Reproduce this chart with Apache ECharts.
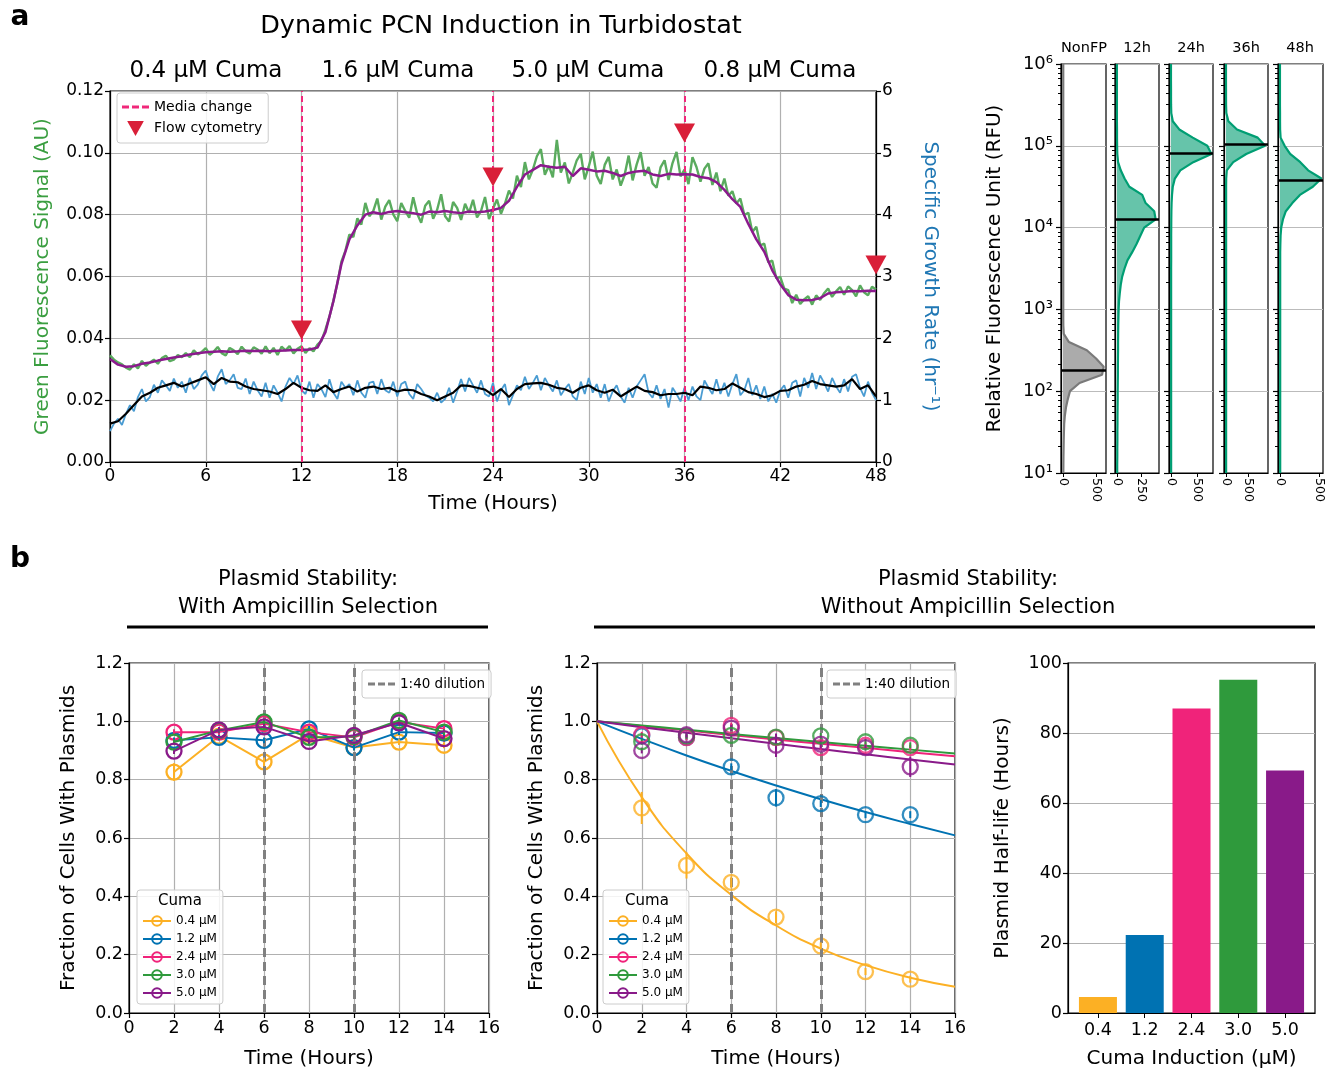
<!DOCTYPE html>
<html>
<head>
<meta charset="utf-8">
<script src="https://cdn.jsdelivr.net/npm/echarts@6/dist/echarts.min.js"></script>
<style>
  html, body { margin: 0; background: #fff; }
  #main { width: 1332px; height: 1071px; }
</style>
</head>
<body>
<div id="main"></div>
<script>
// ---- panel a : turbidostat run, raw traces every 0.25 h, smoothed every 0.5 h
const gfpRaw = [
  0.0345, 0.0331, 0.0322, 0.0316,  0.0305, 0.0299, 0.0316, 0.0303,
  0.0327, 0.0311, 0.0322, 0.0331,  0.0318, 0.0336, 0.0344, 0.0326,
  0.0331, 0.0346, 0.0339, 0.0352,  0.0339, 0.0361, 0.0348, 0.0356,
  0.0368, 0.0347, 0.0357, 0.0372,  0.0352, 0.0345, 0.0369, 0.0361,
  0.0349, 0.0373, 0.0358, 0.0351,  0.0371, 0.0364, 0.0350, 0.0374,
  0.0352, 0.0369, 0.0346, 0.0373,  0.0361, 0.0375, 0.0351, 0.0366,
  0.0374, 0.0353, 0.0368, 0.0358,  0.0380, 0.0392, 0.0428, 0.0470,
  0.0522, 0.0578, 0.0648, 0.0683,  0.0736, 0.0728, 0.0788, 0.0768,
  0.0838, 0.0795, 0.0812, 0.0852,  0.0784, 0.0826, 0.0847, 0.0801,
  0.0779, 0.0838, 0.0812, 0.0790,  0.0856, 0.0803, 0.0774, 0.0829,
  0.0845, 0.0787, 0.0816, 0.0866,  0.0795, 0.0778, 0.0841, 0.0822,
  0.0783, 0.0835, 0.0806, 0.0848,  0.0791, 0.0812, 0.0857, 0.0786,
  0.0819, 0.0849, 0.0803, 0.0836,  0.0878, 0.0852, 0.0926, 0.0889,
  0.0970, 0.0914, 0.0946, 0.0989,  0.1012, 0.0929, 0.0958, 0.0921,
  0.1042, 0.0936, 0.0969, 0.0901,  0.0936, 0.0976, 0.0997, 0.0914,
  0.0956, 0.1004, 0.0926, 0.0899,  0.0961, 0.0987, 0.0914, 0.0946,
  0.0894, 0.0929, 0.0991, 0.0911,  0.0962, 0.1002, 0.0926, 0.0954,
  0.0901, 0.0887, 0.0953, 0.0976,  0.0912, 0.0967, 0.1003, 0.0924,
  0.0946, 0.0899, 0.0986, 0.0954,  0.0907, 0.0949, 0.0966, 0.0896,
  0.0936, 0.0876, 0.0917, 0.0861,  0.0876, 0.0836, 0.0852, 0.0799,
  0.0806, 0.0744, 0.0761, 0.0701,  0.0706, 0.0646, 0.0651, 0.0594,
  0.0599, 0.0561, 0.0556, 0.0514,  0.0541, 0.0511, 0.0526, 0.0536,
  0.0509, 0.0539, 0.0524, 0.0546,  0.0561, 0.0534, 0.0552, 0.0566,
  0.0541, 0.0568, 0.0556, 0.0536,  0.0571, 0.0549, 0.0539, 0.0567,
  0.0558
]
const gfpSmooth = [
  0.0333, 0.0315, 0.0308, 0.0310, 0.0318, 0.0322, 0.0328, 0.0333, 0.0338, 0.0342,
  0.0348, 0.0352, 0.0355, 0.0357, 0.0358, 0.0357, 0.0358, 0.0360, 0.0359, 0.0360,
  0.0358, 0.0360, 0.0361, 0.0362, 0.0362, 0.0364, 0.0370, 0.0420, 0.0520, 0.0640,
  0.0720, 0.0765, 0.0800, 0.0808, 0.0802, 0.0809, 0.0812, 0.0808, 0.0805, 0.0800,
  0.0810, 0.0808, 0.0812, 0.0808, 0.0805, 0.0810, 0.0808, 0.0810, 0.0815, 0.0822,
  0.0845, 0.0890, 0.0930, 0.0945, 0.0960, 0.0955, 0.0952, 0.0955, 0.0925, 0.0950,
  0.0945, 0.0940, 0.0942, 0.0935, 0.0925, 0.0935, 0.0940, 0.0942, 0.0930, 0.0925,
  0.0932, 0.0930, 0.0931, 0.0930, 0.0922, 0.0918, 0.0905, 0.0880, 0.0850, 0.0825,
  0.0770, 0.0720, 0.0680, 0.0620, 0.0575, 0.0540, 0.0525, 0.0523, 0.0524, 0.0530,
  0.0545, 0.0549, 0.0551, 0.0553, 0.0552, 0.0554, 0.0553
]
const growthRaw = [
  0.50, 0.62, 0.70, 0.60,  0.78, 0.92, 0.82, 1.05,  1.18, 0.98, 1.05, 1.25,
  1.12, 1.32, 1.24, 1.15,  1.35, 1.20, 1.30, 1.12,  1.36, 1.18, 1.25, 1.40,
  1.48, 1.28, 1.15, 1.38,  1.50, 1.26, 1.32, 1.42,  1.20, 1.18, 1.35, 1.10,
  1.30, 1.16, 1.06, 1.28,  1.04, 1.24, 1.12, 0.98,  1.22, 1.36, 1.26, 1.40,
  1.16, 1.10, 1.30, 1.04,  1.26, 1.18, 1.05, 1.34,  1.12, 1.02, 1.30, 1.20,
  1.26, 1.08, 1.32, 1.12,  1.04, 1.28, 1.30, 1.10,  1.34, 1.16, 1.12, 1.30,
  1.06, 1.26, 1.30, 1.10,  1.02, 1.26, 1.18, 1.08,  1.04, 0.98, 1.12, 0.96,
  1.02, 1.20, 0.96, 1.14,  1.34, 1.14, 1.36, 1.24,  1.12, 1.32, 1.10, 1.06,
  1.28, 0.98, 1.16, 1.26,  0.92, 1.08, 1.24, 1.16,  1.38, 1.18, 1.28, 1.40,
  1.16, 1.36, 1.24, 1.14,  1.32, 1.08, 1.18, 1.26,  1.06, 1.00, 1.30, 1.10,
  1.36, 1.12, 1.26, 1.04,  1.26, 0.98, 1.14, 1.24,  1.06, 0.96, 1.20, 1.04,
  1.22, 1.32, 1.42, 1.12,  1.04, 1.24, 1.02, 1.18,  0.88, 1.20, 1.10, 0.98,
  1.20, 1.00, 1.22, 1.06,  1.00, 1.32, 1.20, 1.10,  1.34, 1.10, 1.28, 1.06,
  1.26, 1.42, 1.08, 1.16,  1.36, 1.08, 1.24, 1.02,  1.22, 0.98, 1.10, 0.96,
  1.16, 1.24, 1.04, 1.28,  1.32, 1.06, 1.36, 1.20,  1.44, 1.18, 1.40, 1.28,
  1.14, 1.36, 1.22, 1.12,  1.34, 1.14, 1.38, 1.42,  1.20, 1.06, 1.30, 1.12,
  1.00
]
const growthSmooth = [
  0.62, 0.66, 0.78, 0.92, 1.06, 1.12, 1.20, 1.24, 1.28, 1.22,
  1.27, 1.32, 1.37, 1.26, 1.36, 1.30, 1.29, 1.22, 1.18, 1.16,
  1.14, 1.10, 1.18, 1.28, 1.20, 1.16, 1.15, 1.24, 1.13, 1.18,
  1.22, 1.14, 1.20, 1.22, 1.18, 1.20, 1.14, 1.17, 1.16, 1.10,
  1.06, 1.00, 1.06, 1.12, 1.24, 1.23, 1.20, 1.17, 1.08, 1.18,
  1.05, 1.18, 1.26, 1.27, 1.28, 1.25, 1.20, 1.18, 1.12, 1.20,
  1.24, 1.16, 1.12, 1.17, 1.06, 1.14, 1.22, 1.15, 1.13, 1.08,
  1.10, 1.10, 1.12, 1.08, 1.22, 1.20, 1.16, 1.18, 1.27, 1.20,
  1.13, 1.10, 1.05, 1.08, 1.15, 1.16, 1.22, 1.25, 1.31, 1.26,
  1.24, 1.22, 1.24, 1.34, 1.18, 1.24, 1.06
]
const mediaChangeHours = [12, 24, 36]
const flowHours = [12, 24, 36, 48]
const flowMarkY = [0.0427, 0.0922, 0.1064, 0.0637]
const phaseLabels = ['0.4 µM Cuma', '1.6 µM Cuma', '5.0 µM Cuma', '0.8 µM Cuma']

// ---- flow cytometry histograms: counts per log10(RFU) bin, 1.0 .. 6.0 step 0.1
const histNames = ['NonFP', '12h', '24h', '36h', '48h']
const histNonFP = [5,6,7,9,11,14,18,28,45,72, 105,250,590,615,500,360,90,12,5,4, 4,4,4,4,4,4,4,4,4,4, 4,4,4,4,4,4,4,4,4,4, 4,4,4,4,4,4,4,4,4,4, 4]
const hist12h = [3,3,4,4,5,5,6,6,7,8, 8,9,10,10,11,12,12,13,14,16, 18,22,30,40,55,80,110,160,205,245, 285,405,390,300,265,130,80,40,12,4, 2,1,1,0,0,0,0,0,0,0, 0]
const hist24h = [3,3,3,3,3,3,3,3,3,3, 3,3,3,3,3,3,3,3,3,3, 3,3,3,3,3,3,4,4,4,4, 5,6,8,12,20,35,75,180,430,780, 700,420,160,35,6,2,1,1,0,0, 0]
const hist36h = [3,3,3,3,3,3,3,3,3,3, 3,3,3,3,3,3,3,3,3,3, 3,3,3,3,3,3,3,3,3,3, 3,3,3,3,3,3,5,18,165,460, 890,720,250,55,8,2,1,1,0,0, 0]
const hist48h = [3,3,3,3,3,3,3,3,3,3, 3,3,3,3,3,3,3,3,3,3, 3,3,3,3,3,3,3,3,5,8, 16,38,75,158,255,420,530,360,260,130, 60,8,2,1,1,0,0,0,0,0, 0]
const histMedian = [178, 12800, 82000, 104000, 38000]
const histXMin = [-30, -20, -38, -45, -25]
const histXMax = [650, 440, 810, 955, 550]
const histXTick = [500, 250, 500, 500, 500]

// ---- panel b : plasmid stability
const sampleHours = [2, 4, 6, 8, 10, 12, 14]
const doses = ['0.4 µM', '1.2 µM', '2.4 µM', '3.0 µM', '5.0 µM']
const withAmp = [
  [0.826, 0.949, 0.861, 0.955, 0.910, 0.929, 0.918],
  [0.935, 0.945, 0.935, 0.974, 0.910, 0.963, 0.960],
  [0.963, 0.963, 0.992, 0.963, 0.945, 0.998, 0.975],
  [0.929, 0.969, 0.998, 0.945, 0.948, 1.003, 0.963],
  [0.898, 0.971, 0.981, 0.931, 0.952, 0.995, 0.941]
]
const withAmpErr = [
  [0.030, 0.010, 0.015, 0.010, 0.010, 0.010, 0.010],
  [0.010, 0.010, 0.010, 0.010, 0.010, 0.010, 0.010],
  [0.010, 0.010, 0.010, 0.010, 0.010, 0.010, 0.010],
  [0.010, 0.010, 0.010, 0.010, 0.010, 0.010, 0.010],
  [0.010, 0.010, 0.010, 0.010, 0.010, 0.010, 0.010]
]
const noAmp = [
  [0.703, 0.506, 0.448, 0.329, 0.230, 0.142, 0.116],
  [0.950, 0.945, 0.844, 0.738, 0.718, 0.680, 0.680],
  [0.954, 0.944, 0.986, 0.944, 0.910, 0.918, 0.910],
  [0.930, 0.950, 0.952, 0.946, 0.950, 0.930, 0.918],
  [0.900, 0.954, 0.977, 0.918, 0.922, 0.910, 0.844]
]
const noAmpErr = [
  [0.055, 0.045, 0.020, 0.020, 0.012, 0.012, 0.012],
  [0.010, 0.010, 0.012, 0.030, 0.012, 0.012, 0.012],
  [0.010, 0.010, 0.010, 0.010, 0.010, 0.010, 0.010],
  [0.010, 0.010, 0.010, 0.010, 0.010, 0.010, 0.010],
  [0.010, 0.010, 0.010, 0.040, 0.015, 0.010, 0.035]
]
const fitHours = [0, 2, 4, 6, 8, 10, 12, 14, 16]
const noAmpFit = [
  [1.0, 0.740, 0.547, 0.405, 0.300, 0.221, 0.164, 0.121, 0.090],
  [1.0, 0.940, 0.883, 0.830, 0.780, 0.733, 0.689, 0.648, 0.609],
  [1.0, 0.984, 0.969, 0.953, 0.938, 0.923, 0.909, 0.894, 0.880],
  [1.0, 0.986, 0.971, 0.957, 0.943, 0.929, 0.916, 0.903, 0.890],
  [1.0, 0.980, 0.961, 0.942, 0.923, 0.905, 0.887, 0.869, 0.852]
]
const dilutionHours = [6, 10]
const halfLifeLabels = ['0.4', '1.2', '2.4', '3.0', '5.0']
const halfLife = [4.6, 22.3, 87.0, 95.2, 69.3]

const FONT = 'DejaVu Sans'
const doseColors = ['#fcb024', '#0072b2', '#f0237a', '#2f9a3c', '#891a89']
const gridGray = '#b0b0b0'
const dashIcon = 'path://M0,0h7v3h-7z M10,0h7v3h-7z M20,0h7v3h-7z'

let chart = echarts.init(document.getElementById('main'), null, {renderer: 'canvas'})

const axisBase = (extra) => Object.assign({
  axisLine: {show: true, onZero: false, lineStyle: {color: '#000', width: 1.2}},
  axisTick: {show: true, length: 5, lineStyle: {color: '#000', width: 1.2}},
  axisLabel: {color: '#000', fontSize: 17, fontFamily: FONT, margin: 6},
  splitLine: {show: true, lineStyle: {color: gridGray, width: 1.2}},
  nameLocation: 'middle',
  nameTextStyle: {color: '#000', fontSize: 20, fontFamily: FONT}
}, extra)

// grid 0 main, 1-5 histograms, 6 / 7 stability, 8 half-life bars
let grids = [{left: 110, top: 91, width: 766, height: 371}]
let histLefts = [1061, 1115, 1169, 1224, 1278]
let histWidths = [45, 44, 44, 44, 45]
histLefts.forEach((l, i) => grids.push({left: l, top: 64, width: histWidths[i], height: 409}))
grids.push({left: 129, top: 663, width: 360, height: 350})
grids.push({left: 597, top: 663, width: 358, height: 350})
grids.push({left: 1068, top: 663, width: 247, height: 350})
grids.forEach(g => { g.show = true; g.borderColor = '#000'; g.borderWidth = 1.2; g.backgroundColor = 'transparent' })

let tRaw = gfpRaw.map((v, i) => i * 0.25)
let tSmooth = gfpSmooth.map((v, i) => i * 0.5)
let bins = hist12h.map((v, i) => (1 + i / 10).toFixed(1))
let sup = {1: '¹', 2: '²', 3: '³', 4: '⁴', 5: '⁵', 6: '⁶'}

let xAxis = [
  axisBase({gridIndex: 0, type: 'value', min: 0, max: 48, interval: 6,
    name: 'Time (Hours)', nameGap: 32})
]
let yAxis = [
  axisBase({gridIndex: 0, type: 'value', min: 0, max: 0.12, interval: 0.02,
    axisLabel: {color: '#000', fontSize: 17, fontFamily: FONT, margin: 6, formatter: v => v.toFixed(2)},
    name: 'Green Fluorescence Signal (AU)', nameGap: 57,
    nameTextStyle: {color: '#3a9e40', fontSize: 20, fontFamily: FONT}}),
  axisBase({gridIndex: 0, type: 'value', position: 'right', min: 0, max: 6, interval: 1,
    splitLine: {show: false},
    name: 'Specific Growth Rate (hr⁻¹)', nameGap: 44, nameRotate: -90,
    nameTextStyle: {color: '#1f77b4', fontSize: 20, fontFamily: FONT}})
]
let series = [
  {type: 'line', xAxisIndex: 0, yAxisIndex: 0, data: gfpRaw.map((v, i) => [tRaw[i], v]),
    symbol: 'none', lineStyle: {color: '#5aab5e', width: 2.4}, z: 2},
  {type: 'line', xAxisIndex: 0, yAxisIndex: 0, data: gfpSmooth.map((v, i) => [tSmooth[i], v]),
    symbol: 'none', lineStyle: {color: '#8b1a8d', width: 2.5}, z: 3},
  {type: 'line', xAxisIndex: 0, yAxisIndex: 1, data: growthRaw.map((v, i) => [tRaw[i], v]),
    symbol: 'none', lineStyle: {color: '#4a9cd2', width: 1.8}, z: 2},
  {type: 'line', xAxisIndex: 0, yAxisIndex: 1, data: growthSmooth.map((v, i) => [tSmooth[i], v]),
    symbol: 'none', lineStyle: {color: '#000', width: 2.2}, z: 3},
  {type: 'line', name: 'Media change', xAxisIndex: 0, yAxisIndex: 0, data: [[12, 0]],
    symbol: 'none', itemStyle: {color: '#f0287a'},
    lineStyle: {color: '#f0287a', width: 2.2, type: [6, 3]}, z: 5,
    markLine: {silent: true, symbol: ['none', 'none'], label: {show: false},
      lineStyle: {color: '#f0287a', width: 2, type: [6, 4]},
      data: mediaChangeHours.map(h => ({xAxis: h}))}},
  {type: 'scatter', name: 'Flow cytometry', xAxisIndex: 0, yAxisIndex: 0,
    data: flowHours.map((h, i) => [h, flowMarkY[i]]),
    symbol: 'path://M0,0L20,0L10,18Z', symbolSize: [21, 19],
    itemStyle: {color: '#d91f38', opacity: 1}, z: 6}
]

// histograms
const hists = [histNonFP, hist12h, hist24h, hist36h, hist48h]
hists.forEach((h, i) => {
  let gi = i + 1
  let edge = i === 0 ? '#7a7a7a' : '#009e73'
  let fill = i === 0 ? '#ababab' : '#66c4aa'
  xAxis.push(axisBase({gridIndex: gi, type: 'value', min: histXMin[i], max: histXMax[i],
    splitLine: {show: false},
    axisTick: {show: true, length: 4, customValues: [0, histXTick[i]], lineStyle: {color: '#000'}},
    axisLabel: {color: '#000', fontSize: 12.5, fontFamily: FONT, rotate: -90, margin: 5,
      customValues: [0, histXTick[i]]}}))
  yAxis.push(axisBase({gridIndex: gi, type: 'log', logBase: 10, min: 10, max: 1e6,
    axisTick: {show: true, length: 5, lineStyle: {color: '#000', width: 1.2}},
    minorTick: {show: true, splitNumber: 8, length: 3, lineStyle: {color: '#000'}},
    axisLabel: {show: i === 0, color: '#000', fontSize: 18, fontFamily: FONT, margin: 8,
      formatter: v => '10' + sup[Math.round(Math.log10(v))]},
    splitLine: {show: true, lineStyle: {color: '#bbbbbb', width: 1.2}},
    name: i === 0 ? 'Relative Fluorescence Unit (RFU)' : '', nameGap: 56}))
  yAxis.push({gridIndex: gi, type: 'category', data: bins, boundaryGap: false, show: false})
  series.push({type: 'line', xAxisIndex: gi, yAxisIndex: yAxis.length - 1, data: h,
    symbol: 'none', lineStyle: {color: edge, width: 2.2},
    areaStyle: {color: fill, opacity: 1}, z: 2})
  series.push({type: 'line', xAxisIndex: gi, yAxisIndex: yAxis.length - 2,
    data: [[0, histMedian[i]]], symbol: 'none', z: 4,
    markLine: {silent: true, symbol: ['none', 'none'], label: {show: false},
      lineStyle: {color: '#000', width: 2.6, type: 'solid'},
      data: [{yAxis: histMedian[i]}]}})
})

// panel b, two stability plots
const stabilityAxes = (gi) => {
  xAxis.push(axisBase({gridIndex: gi, type: 'value', min: 0, max: 16, interval: 2,
    axisLabel: {color: '#000', fontSize: 17.5, fontFamily: FONT, margin: 6},
    name: 'Time (Hours)', nameGap: 36}))
  yAxis.push(axisBase({gridIndex: gi, type: 'value', min: 0, max: 1.2, interval: 0.2,
    axisLabel: {color: '#000', fontSize: 17.5, fontFamily: FONT, margin: 6, formatter: v => v.toFixed(1)},
    name: 'Fraction of Cells With Plasmids', nameGap: 50}))
  return [xAxis.length - 1, yAxis.length - 1]
}
const errorBars = (xi, yi, means, errs, color) => ({
  type: 'custom', xAxisIndex: xi, yAxisIndex: yi, z: 6,
  data: sampleHours.map((t, j) => [t, means[j] - errs[j], means[j] + errs[j]]),
  encode: {x: 0, y: [1, 2]},
  renderItem: (params, api) => {
    let a = api.coord([api.value(0), api.value(1)])
    let b = api.coord([api.value(0), api.value(2)])
    return {type: 'line', shape: {x1: a[0], y1: a[1], x2: b[0], y2: b[1]},
      style: {stroke: color, lineWidth: 2}}
  }
})
const dilutionSeries = (xi, yi) => ({
  type: 'line', name: '1:40 dilution', xAxisIndex: xi, yAxisIndex: yi, data: [[6, 0]],
  symbol: 'none', itemStyle: {color: '#808080'},
  lineStyle: {color: '#808080', width: 2.2, type: [5, 3]}, z: 1,
  markLine: {silent: true, symbol: ['none', 'none'], label: {show: false},
    lineStyle: {color: '#808080', width: 3, type: [9, 5]},
    data: dilutionHours.map(h => ({xAxis: h}))}
})
const openCircle = (c) => ({color: 'rgba(255,255,255,0)', borderColor: c, borderWidth: 2.3})

let [xa, ya] = stabilityAxes(6)
doses.forEach((d, k) => {
  series.push({type: 'line', name: d, xAxisIndex: xa, yAxisIndex: ya,
    data: sampleHours.map((t, j) => [t, withAmp[k][j]]),
    symbol: 'circle', symbolSize: 15, itemStyle: openCircle(doseColors[k]),
    lineStyle: {color: doseColors[k], width: 2}, z: 3 + k})
  series.push(errorBars(xa, ya, withAmp[k], withAmpErr[k], doseColors[k]))
})
series.push(dilutionSeries(xa, ya))

let [xb, yb] = stabilityAxes(7)
doses.forEach((d, k) => {
  series.push({type: 'line', name: 'fit ' + d, xAxisIndex: xb, yAxisIndex: yb,
    data: fitHours.map((t, j) => [t, noAmpFit[k][j]]), smooth: true,
    symbol: 'none', lineStyle: {color: doseColors[k], width: 2}, z: 3})
  series.push({type: 'scatter', name: d, xAxisIndex: xb, yAxisIndex: yb,
    data: sampleHours.map((t, j) => [t, noAmp[k][j]]),
    symbol: 'circle', symbolSize: 15, itemStyle: openCircle(doseColors[k]), z: 4 + k})
  series.push(errorBars(xb, yb, noAmp[k], noAmpErr[k], doseColors[k]))
})
series.push(dilutionSeries(xb, yb))

// half-life bars
xAxis.push(axisBase({gridIndex: 8, type: 'value', min: -0.64, max: 4.64,
  splitLine: {show: false},
  axisTick: {show: true, length: 5, customValues: [0, 1, 2, 3, 4], lineStyle: {color: '#000'}},
  axisLabel: {color: '#000', fontSize: 17.5, fontFamily: FONT, margin: 8,
    customValues: [0, 1, 2, 3, 4], formatter: v => halfLifeLabels[Math.round(v)]},
  name: 'Cuma Induction (µM)', nameGap: 36}))
yAxis.push(axisBase({gridIndex: 8, type: 'value', min: 0, max: 100, interval: 20,
  axisLabel: {color: '#000', fontSize: 17.5, fontFamily: FONT, margin: 6},
  name: 'Plasmid Half-life (Hours)', nameGap: 55}))
series.push({type: 'bar', xAxisIndex: xAxis.length - 1, yAxisIndex: yAxis.length - 1,
  barWidth: 38, z: 3,
  data: halfLife.map((v, i) => ({value: [i, v], itemStyle: {color: doseColors[i]}}))})

const legendBox = {
  selectedMode: false, orient: 'vertical', borderColor: '#cccccc', borderWidth: 1,
  borderRadius: 3, backgroundColor: 'rgba(255,255,255,0.85)'
}
const cumaLegend = (left) => Object.assign({}, legendBox, {
  data: doses, left: left, top: 890, padding: [25, 6, 5, 5],
  itemWidth: 28, itemHeight: 12, itemGap: 6,
  textStyle: {fontSize: 12, fontFamily: FONT, color: '#000'}
})
const dilutionLegend = (left) => Object.assign({}, legendBox, {
  data: [{name: '1:40 dilution', icon: dashIcon, itemStyle: {color: '#808080'}}],
  left: left, top: 670, padding: [7, 6, 7, 6], itemWidth: 27, itemHeight: 12,
  textStyle: {fontSize: 13.5, fontFamily: FONT, color: '#000'}
})

const txt = (x, y, text, size, extra) => ({type: 'text', x: x, y: y, silent: true, z: 100,
  style: Object.assign({text: text, fontSize: size, fontFamily: FONT, fill: '#000',
    align: 'center', textAlign: 'center', verticalAlign: 'middle', textVerticalAlign: 'middle'}, extra || {})})

let graphic = [
  txt(20, 18, 'a', 28, {fontWeight: 'bold'}),
  txt(20, 560, 'b', 28, {fontWeight: 'bold'}),
  txt(501, 26, 'Dynamic PCN Induction in Turbidostat', 25.5),
  txt(308, 580, 'Plasmid Stability:', 21),
  txt(308, 608, 'With Ampicillin Selection', 21),
  txt(968, 580, 'Plasmid Stability:', 21),
  txt(968, 608, 'Without Ampicillin Selection', 21),
  txt(180, 901, 'Cuma', 15),
  txt(647, 901, 'Cuma', 15),
  {type: 'line', silent: true, shape: {x1: 127, y1: 627, x2: 488, y2: 627}, style: {stroke: '#000', lineWidth: 3}},
  {type: 'line', silent: true, shape: {x1: 594, y1: 627, x2: 1315, y2: 627}, style: {stroke: '#000', lineWidth: 3}}
]
let phaseX = [206, 398, 588, 780]
phaseLabels.forEach((p, i) => graphic.push(txt(phaseX[i], 71, p, 23)))
let histCenters = [1084, 1137, 1191, 1246, 1300]
histNames.forEach((n, i) => graphic.push(txt(histCenters[i], 48, n, 14.5)))

let option = {
  animation: false,
  backgroundColor: '#fff',
  textStyle: {fontFamily: FONT},
  grid: grids,
  xAxis: xAxis,
  yAxis: yAxis,
  legend: [
    Object.assign({}, legendBox, {
      data: [{name: 'Media change', icon: dashIcon, itemStyle: {color: '#f0287a'}}, 'Flow cytometry'],
      left: 117, top: 93, padding: [7, 6, 7, 5], itemWidth: 27, itemHeight: 15, itemGap: 7,
      textStyle: {fontSize: 14, fontFamily: FONT, color: '#000'}}),
    dilutionLegend(362),
    dilutionLegend(827),
    cumaLegend(137),
    cumaLegend(603)
  ],
  graphic: graphic,
  series: series
}
chart.setOption(option)
</script>
</body>
</html>
